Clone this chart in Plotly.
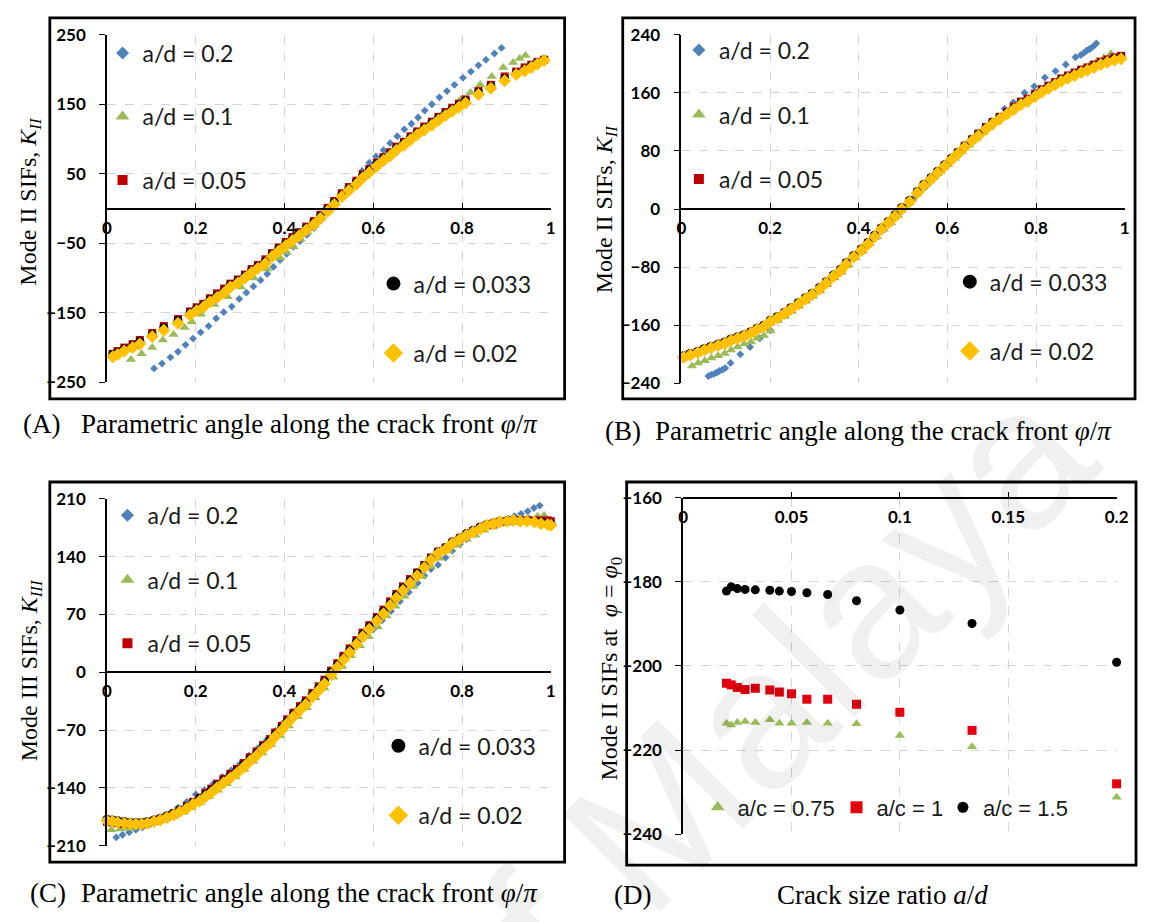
import plotly.graph_objects as go

W, H = 1149, 922


def px(v):
    return v / W


def py(v):
    return 1 - v / H


# ---------------- DATA ----------------
series_labels = ["a/d = 0.2", "a/d = 0.1", "a/d = 0.05", "a/d = 0.033", "a/d = 0.02"]
ratio_labels = ["a/c = 0.75", "a/c = 1", "a/c = 1.5"]

# Panel A : Mode II SIFs
phi_A = [0.013, 0.024, 0.039, 0.058, 0.074, 0.102, 0.128, 0.160, 0.187, 0.202,
         0.217, 0.232, 0.248, 0.264, 0.278, 0.295, 0.311, 0.326, 0.340, 0.357,
         0.372, 0.387, 0.403, 0.418, 0.433, 0.449, 0.466, 0.481, 0.497, 0.512,
         0.529, 0.545, 0.562, 0.576, 0.591, 0.608, 0.623, 0.638, 0.652, 0.669,
         0.684, 0.699, 0.715, 0.732, 0.747, 0.763, 0.778, 0.793, 0.808, 0.837,
         0.865, 0.896, 0.922, 0.941, 0.956, 0.970, 0.985]
kA_002 = [-213, -210, -205, -200, -195, -184, -175, -165, -153, -147,
          -142, -134, -128, -121, -113, -107, -100, -92, -86, -79,
          -69, -61, -53, -46, -39, -31, -23, -14, -4, 6,
          17, 26, 35, 44, 52, 61, 69, 76, 84, 91,
          99, 106, 113, 120, 127, 134, 140, 146, 152, 164,
          173, 184, 193, 198, 203, 208, 213]
kA_0033 = [-210, -207, -202, -197, -191, -181, -171, -161, -150, -144,
           -139, -131, -125, -118, -110, -104, -97, -89, -83, -76,
           -66, -58, -50, -43, -36, -28, -20, -11, -1, 9,
           20, 29, 38, 47, 55, 64, 72, 79, 87, 94,
           102, 109, 116, 123, 130, 137, 143, 149, 155, 167,
           176, 187, 195, 200, 205, 210, 214]
kA_005 = [-209, -205, -200, -195, -189, -179, -169, -159, -148, -142,
          -137, -129, -122, -115, -108, -102, -95, -87, -81, -73,
          -64, -56, -48, -41, -34, -26, -18, -9, 1, 11,
          22, 31, 40, 49, 57, 66, 74, 81, 89, 96,
          104, 111, 118, 125, 132, 139, 145, 151, 157, 169,
          178, 190, 197, 203, 207, 211, 214]
phiA_01 = [0.054, 0.078, 0.102, 0.126, 0.150, 0.175, 0.191, 0.212, 0.242, 0.272,
           0.302, 0.331, 0.361, 0.390, 0.405, 0.420, 0.436, 0.452, 0.468, 0.484,
           0.500, 0.516, 0.532, 0.548, 0.564, 0.580, 0.596, 0.612, 0.628, 0.644,
           0.660, 0.676, 0.692, 0.708, 0.724, 0.740, 0.756, 0.772, 0.797, 0.819,
           0.841, 0.867, 0.893, 0.915, 0.930, 0.943]
kA_01 = [-217, -209, -200, -189, -181, -171, -163, -152, -138, -127,
         -113, -100, -87, -71, -63, -55, -44, -34, -24, -13,
         -3, 8, 18, 28, 37, 46, 55, 63, 71, 79,
         87, 95, 103, 111, 119, 127, 135, 143, 157, 167,
         178, 190, 203, 210, 216, 220]
phiA_02 = [0.106, 0.124, 0.143, 0.160, 0.177, 0.194, 0.211, 0.229, 0.246, 0.263,
           0.281, 0.298, 0.314, 0.330, 0.346, 0.361, 0.375, 0.390, 0.405, 0.420,
           0.435, 0.450, 0.466, 0.482, 0.498, 0.513, 0.529, 0.545, 0.560, 0.575,
           0.591, 0.606, 0.623, 0.638, 0.654, 0.670, 0.686, 0.701, 0.716, 0.732,
           0.749, 0.766, 0.783, 0.802, 0.820, 0.837, 0.854, 0.873, 0.889]
kA_02 = [-230, -223, -214, -206, -196, -187, -178, -169, -158, -149,
         -141, -130, -121, -112, -103, -94, -84, -74, -65, -55,
         -47, -38, -28, -17, -6, 6, 17, 29, 41, 54,
         66, 75, 84, 94, 104, 114, 122, 131, 141, 150,
         160, 169, 178, 188, 197, 206, 214, 223, 231]

# Panel B : Mode II SIFs
phi_B = [0.005, 0.020, 0.037, 0.052, 0.067, 0.083, 0.098, 0.112, 0.127, 0.142,
         0.157, 0.171, 0.186, 0.201, 0.217, 0.233, 0.247, 0.264, 0.280, 0.295,
         0.312, 0.327, 0.343, 0.359, 0.372, 0.389, 0.406, 0.421, 0.436, 0.451,
         0.467, 0.482, 0.497,
         0.515, 0.532, 0.547, 0.563, 0.578, 0.594, 0.609, 0.624, 0.639, 0.656,
         0.670, 0.687, 0.702, 0.718, 0.735, 0.750, 0.766, 0.781, 0.798, 0.813,
         0.828, 0.843, 0.857, 0.872, 0.887, 0.902, 0.916, 0.931, 0.946, 0.961,
         0.977, 0.992]
kB_002 = [-204, -201, -198, -194, -191, -188, -185, -181, -178, -175,
          -171, -166, -162, -155, -150, -144, -138, -131, -124, -118,
          -110, -102, -93, -85, -76, -66, -57, -48, -38, -28,
          -19, -10, 0,
          10, 22, 32, 41, 50, 59, 68, 76, 85, 94,
          101, 110, 117, 124, 131, 137, 144, 148, 155, 161,
          166, 171, 176, 180, 184, 188, 191, 195, 199, 202,
          205, 207]
kB_0033 = [-202, -199, -196, -192, -189, -186, -183, -179, -176, -173,
           -169, -164, -160, -153, -148, -142, -136, -129, -122, -116,
           -108, -100, -91, -83, -74, -64, -55, -46, -36, -26,
           -17, -8, 2,
           12, 24, 34, 43, 52, 61, 70, 78, 87, 96,
           103, 112, 119, 126, 133, 139, 146, 150, 157, 163,
           168, 173, 178, 182, 186, 190, 193, 197, 201, 204,
           207, 209]
kB_005 = [-203, -200, -197, -193, -190, -187, -184, -180, -177, -174,
          -170, -165, -161, -154, -149, -143, -137, -130, -123, -117,
          -109, -101, -92, -84, -75, -65, -56, -47, -37, -27,
          -18, -9, 1,
          11, 23, 33, 42, 51, 60, 69, 78, 87, 96,
          104, 113, 120, 127, 134, 141, 148, 152, 159, 165,
          170, 175, 180, 184, 188, 192, 195, 199, 203, 206,
          209, 211]
phiB_01 = [0.024, 0.038, 0.053, 0.068, 0.083, 0.098, 0.112, 0.127, 0.142, 0.157,
           0.171, 0.186, 0.201,
           0.217, 0.233, 0.249, 0.265, 0.281, 0.297, 0.313, 0.329, 0.345, 0.361,
           0.377, 0.393, 0.409, 0.425, 0.441, 0.457, 0.473, 0.489, 0.505, 0.521,
           0.537, 0.553, 0.569, 0.585, 0.601, 0.617, 0.633, 0.649, 0.665, 0.681,
           0.697, 0.713, 0.729, 0.745, 0.761, 0.777, 0.793, 0.809, 0.825, 0.841,
           0.857, 0.873, 0.889, 0.905, 0.921, 0.937, 0.953, 0.969]
kB_01 = [-216, -212, -209, -205, -202, -199, -194, -190, -186, -183,
         -178, -174, -168,
         -154, -148, -141, -134, -127, -120, -113, -104, -95, -87,
         -77, -67, -58, -48, -38, -28, -19, -9, 2, 13,
         24, 34, 43, 52, 61, 70, 79, 88, 97, 105,
         113, 120, 128, 135, 142, 148, 154, 161, 167, 173,
         178, 183, 188, 193, 198, 203, 208, 214]
phiB_02 = [0.061, 0.068, 0.074, 0.080, 0.086, 0.093, 0.099, 0.111, 0.133, 0.155,
           0.177, 0.201,
           0.225, 0.250, 0.275, 0.300, 0.325, 0.350, 0.375, 0.400, 0.425, 0.450,
           0.475, 0.500, 0.525, 0.550, 0.575, 0.600, 0.625, 0.650, 0.675, 0.700,
           0.729, 0.749, 0.774, 0.796, 0.820, 0.844, 0.867, 0.889, 0.901, 0.908,
           0.914, 0.920, 0.925, 0.931, 0.936]
kB_02 = [-230, -228, -227, -225, -223, -221, -219, -212, -200, -190,
         -178, -167,
         -147, -137, -127, -117, -103, -90, -75, -59, -45, -30,
         -15, 0, 15, 30, 45, 60, 76, 92, 106, 121,
         138, 147, 160, 169, 181, 190, 199, 209, 212, 215,
         218, 220, 222, 225, 228]

# Panel C : Mode III SIFs
phi_C = [0.000, 0.012, 0.024, 0.039, 0.052, 0.065, 0.078, 0.091, 0.106, 0.120,
         0.135, 0.150, 0.164, 0.180, 0.194, 0.209, 0.222, 0.235, 0.248, 0.263,
         0.278, 0.293, 0.308, 0.322, 0.337, 0.352, 0.367, 0.379, 0.394, 0.406,
         0.420, 0.435, 0.448, 0.463, 0.477, 0.490,
         0.505, 0.519, 0.533, 0.547, 0.562, 0.576, 0.591, 0.608, 0.623, 0.638,
         0.652, 0.667, 0.683, 0.699, 0.715, 0.730, 0.746, 0.763, 0.778, 0.795,
         0.810, 0.825, 0.841, 0.856, 0.871, 0.885, 0.902, 0.916, 0.931, 0.946,
         0.963, 0.978, 0.993, 1.000]
kC_002 = [-180, -181, -182, -183, -184, -184, -184, -183, -181, -179,
          -176, -173, -169, -165, -160, -156, -151, -146, -140, -134,
          -128, -122, -115, -108, -101, -93, -86, -78, -70, -62,
          -54, -46, -39, -30, -22, -14,
          -3, 6, 15, 24, 34, 43, 52, 62, 71, 81,
          90, 99, 108, 117, 127, 136, 144, 149, 156, 161,
          166, 170, 174, 178, 180, 182, 183, 184, 183, 183,
          182, 180, 179, 178]
kC_0033 = [-178, -179, -180, -181, -182, -182, -182, -181, -179, -177,
           -174, -171, -167, -163, -158, -153, -148, -143, -137, -131,
           -125, -119, -112, -105, -98, -90, -83, -75, -67, -59,
           -51, -43, -36, -27, -19, -11,
           0, 9, 18, 27, 37, 46, 55, 65, 74, 84,
           93, 102, 111, 120, 129, 138, 146, 151, 158, 163,
           168, 172, 176, 179, 181, 183, 184, 184, 184, 184,
           183, 182, 181, 180]
kC_005 = [-181, -182, -183, -184, -184, -184, -183, -182, -180, -178,
          -175, -171, -167, -162, -157, -152, -146, -141, -135, -129,
          -123, -117, -110, -103, -96, -88, -81, -73, -65, -57,
          -49, -41, -34, -25, -17, -9,
          2, 11, 20, 29, 39, 48, 57, 67, 76, 86,
          95, 104, 113, 121, 130, 139, 146, 151, 157, 162,
          167, 171, 175, 178, 180, 182, 183, 184, 184, 184,
          184, 184, 184, 183]
phiC_01 = [0.01, 0.03, 0.05, 0.07, 0.09, 0.11, 0.13, 0.15, 0.17, 0.19,
           0.21, 0.23, 0.25, 0.27, 0.29, 0.31, 0.33, 0.35, 0.37, 0.39,
           0.41, 0.43, 0.45, 0.47, 0.49, 0.51, 0.53, 0.55, 0.57, 0.59,
           0.61, 0.63, 0.65, 0.67, 0.69, 0.71, 0.73, 0.75, 0.77, 0.79,
           0.81, 0.83, 0.85, 0.87, 0.89, 0.91, 0.93, 0.95, 0.97, 0.985]
kC_01 = [-191, -190, -189, -187, -185, -182, -179, -175, -170, -164,
         -158, -151, -143, -135, -127, -118, -108, -98, -88, -77,
         -65, -54, -43, -31, -19, -6, 7, 20, 32, 43,
         55, 68, 80, 92, 104, 116, 128, 138, 147, 154,
         161, 166, 172, 176, 180, 183, 185, 187, 189, 190]
phiC_02 = [0.021, 0.035, 0.050, 0.065, 0.080, 0.095, 0.110, 0.125, 0.140, 0.160,
           0.180, 0.200, 0.220, 0.240, 0.260, 0.280, 0.300, 0.320, 0.340, 0.360,
           0.380, 0.400, 0.420, 0.440, 0.460, 0.480, 0.500, 0.520, 0.540, 0.560,
           0.580, 0.600, 0.620, 0.640, 0.660, 0.680, 0.700, 0.715, 0.730, 0.746,
           0.763, 0.778, 0.795, 0.810, 0.826, 0.841, 0.856, 0.871, 0.889, 0.904,
           0.918, 0.933, 0.948, 0.962, 0.975]
kC_02 = [-200, -197, -194, -191, -188, -185, -181, -177, -172, -164,
         -157, -148, -143, -135, -127, -119, -111, -101, -92, -82,
         -71, -60, -49, -38, -27, -16, -5, 9, 20, 31,
         42, 52, 63, 74, 86, 97, 108, 117, 125, 130,
         139, 147, 155, 161, 167, 172, 176, 180, 183, 186,
         189, 192, 195, 199, 202]

# Panel D : Mode II SIFs at phi = phi0 vs crack size ratio
ad_ratio = [0.02, 0.0222, 0.025, 0.0286, 0.0333, 0.04, 0.0444, 0.05, 0.0571,
            0.0667, 0.08, 0.1, 0.1333, 0.2]
kD_075 = [-213.6, -214.0, -213.4, -213.2, -213.4, -212.8, -213.6, -213.6, -213.4,
          -213.6, -213.7, -216.5, -219.2, -231.2]
kD_1 = [-204.1, -204.5, -205.1, -205.6, -205.3, -205.7, -206.2, -206.6, -207.9,
        -207.9, -209.1, -211.0, -215.3, -228.0]
kD_15 = [-182.2, -181.2, -181.6, -181.8, -181.9, -182.0, -182.2, -182.3, -182.6,
         -183.0, -184.5, -186.7, -189.9, -199.1]

# tick values / labels
phi_ticks = [0, 0.2, 0.4, 0.6, 0.8, 1]
phi_ticktext = ["0", "0.2", "0.4", "0.6", "0.8", "1"]
yA_ticks = [-250, -150, -50, 50, 150, 250]
yB_ticks = [-240, -160, -80, 0, 80, 160, 240]
yC_ticks = [-210, -140, -70, 0, 70, 140, 210]
xD_ticks = [0, 0.05, 0.1, 0.15, 0.2]
xD_ticktext = ["0", "0.05", "0.1", "0.15", "0.2"]
yD_ticks = [-240, -220, -200, -180, -160]

# ---------------- STYLE ----------------
STY = [
    dict(symbol="diamond", size=6, lsize=10, color="#4F81BD"),
    dict(symbol="triangle-up", size=9, lsize=12, color="#9BBB59"),
    dict(symbol="square", size=8, lsize=10, color="#C00000"),
    dict(symbol="circle", size=9, lsize=14, color="#000000"),
    dict(symbol="diamond", size=10, lsize=15, color="#FFC000"),
]
STY_D = [
    dict(symbol="triangle-up", size=9, lsize=12, color="#9BBB59"),
    dict(symbol="square", size=9, lsize=12, color="#E3000F"),
    dict(symbol="circle", size=9, lsize=11, color="#000000"),
]

LEGFONT = dict(family="Lato, Open Sans, sans-serif", size=23, color="#1a1a1a")
LEGFONT_D = dict(family="Liberation Sans, Arial, sans-serif",
                 size=22, color="#1a1a1a")

fig = go.Figure()
legends = {}
leg_counter = [0]


def new_legend(text_x, center_y, font):
    leg_counter[0] += 1
    key = "legend" if leg_counter[0] == 1 else "legend%d" % leg_counter[0]
    legends[key] = dict(x=px(text_x - 42), y=py(center_y), xanchor="left",
                        yanchor="middle", bgcolor="rgba(0,0,0,0)", font=font,
                        itemclick=False, itemdoubleclick=False)
    return key


panels = [
    dict(xa="x", ya="y",
         series=[(phiA_02, kA_02), (phiA_01, kA_01), (phi_A, kA_005),
                 (phi_A, kA_0033), (phi_A, kA_002)],
         legpos=[(141, 43), (141, 108), (141, 173), (416, 279), (416, 350)]),
    dict(xa="x2", ya="y2",
         series=[(phiB_02, kB_02), (phiB_01, kB_01), (phi_B, kB_005),
                 (phi_B, kB_0033), (phi_B, kB_002)],
         legpos=[(726, 40), (726, 106), (726, 172), (1001, 277), (1001, 348)]),
    dict(xa="x3", ya="y3",
         series=[(phiC_02, kC_02), (phiC_01, kC_01), (phi_C, kC_005),
                 (phi_C, kC_0033), (phi_C, kC_002)],
         legpos=[(146, 516), (146, 582), (146, 647), (421, 752), (421, 823)]),
]
for p in panels:
    for i, (xs, ys) in enumerate(p["series"]):
        s = STY[i]
        fig.add_trace(go.Scatter(
            x=xs, y=ys, mode="markers", name=series_labels[i], showlegend=False,
            marker=dict(symbol=s["symbol"], size=s["size"], color=s["color"],
                        line=dict(width=0)),
            xaxis=p["xa"], yaxis=p["ya"], cliponaxis=False, hoverinfo="skip"))
    for i in range(5):
        s = STY[i]
        key = new_legend(p["legpos"][i][0], p["legpos"][i][1], LEGFONT)
        fig.add_trace(go.Scatter(
            x=[None], y=[None], mode="markers", name=series_labels[i],
            marker=dict(symbol=s["symbol"], size=s["lsize"], color=s["color"],
                        line=dict(width=0)),
            xaxis=p["xa"], yaxis=p["ya"], legend=key, hoverinfo="skip"))

legpos_D = [(745, 815), (886, 815), (994, 815)]
for i, ys in enumerate([kD_075, kD_1, kD_15]):
    s = STY_D[i]
    fig.add_trace(go.Scatter(
        x=ad_ratio, y=ys, mode="markers", name=ratio_labels[i], showlegend=False,
        marker=dict(symbol=s["symbol"], size=s["size"], color=s["color"],
                    line=dict(width=0)),
        xaxis="x4", yaxis="y4", cliponaxis=False, hoverinfo="skip"))
    key = new_legend(legpos_D[i][0], legpos_D[i][1], LEGFONT_D)
    fig.add_trace(go.Scatter(
        x=[None], y=[None], mode="markers", name=ratio_labels[i],
        marker=dict(symbol=s["symbol"], size=s["lsize"], color=s["color"],
                    line=dict(width=0)),
        xaxis="x4", yaxis="y4", legend=key, hoverinfo="skip"))

TICKFONT = dict(family="Lato, Open Sans, sans-serif", size=17, color="black",
                weight="bold")
GRID = dict(showgrid=True, gridcolor="#d4d4d4", griddash="dash", gridwidth=1)


def xaxis_cfg(dom, pos, rng, vals, text):
    return dict(domain=dom, anchor="free", position=pos, range=rng,
                tickmode="array", tickvals=vals, ticktext=text,
                showline=True, linecolor="black", linewidth=1.6,
                ticks="inside", ticklen=5, tickcolor="black", tickwidth=1.3,
                zeroline=False, tickfont=TICKFONT, ticklabelstandoff=4,
                fixedrange=True, **GRID)


def yaxis_cfg(dom, anchor, rng, vals):
    return dict(domain=dom, anchor=anchor, range=rng,
                tickmode="array", tickvals=vals,
                showline=True, linecolor="black", linewidth=1.6,
                ticks="outside", ticklen=6, tickcolor="black", tickwidth=1.3,
                zeroline=False, tickfont=TICKFONT, ticklabelstandoff=10,
                fixedrange=True, **GRID)


domA_x = [px(103.5), px(554)]
domA_y = [py(380), py(24.3)]
domB_x = [px(686.5), px(1136.5)]
domB_y = [py(381), py(24.3)]
domC_x = [px(103.5), px(554)]
domC_y = [py(854), py(499.3)]
domD_x = [px(688.3), px(1128.3)]
domD_y = [py(842.5), py(498)]


def mid(d):
    return (d[0] + d[1]) / 2


fig.update_layout(
    width=W, height=H, margin=dict(l=0, r=0, t=0, b=0),
    paper_bgcolor="white", plot_bgcolor="white",
    xaxis=xaxis_cfg(domA_x, mid(domA_y), [0, 1], phi_ticks, phi_ticktext),
    yaxis=yaxis_cfg(domA_y, "x", [-250, 250], yA_ticks),
    xaxis2=xaxis_cfg(domB_x, mid(domB_y), [0, 1], phi_ticks, phi_ticktext),
    yaxis2=yaxis_cfg(domB_y, "x2", [-240, 240], yB_ticks),
    xaxis3=xaxis_cfg(domC_x, mid(domC_y), [0, 1], phi_ticks, phi_ticktext),
    yaxis3=yaxis_cfg(domC_y, "x3", [-210, 210], yC_ticks),
    xaxis4=xaxis_cfg(domD_x, domD_y[1], [0, 0.2], xD_ticks, xD_ticktext),
    yaxis4=yaxis_cfg(domD_y, "x4", [-240, -160], yD_ticks),
    **legends,
)

# panel frames
frames = [(45.5, 7, 568, 397), (627, 7, 1147, 397), (45.5, 482, 568, 871),
          (631, 482, 1148, 874)]
for (x0, y0, x1, y1) in frames:
    fig.add_shape(type="rect", xref="paper", yref="paper",
                  x0=px(x0), x1=px(x1), y0=py(y1), y1=py(y0),
                  line=dict(color="black", width=2.8), layer="above")

SERIF = "Liberation Serif, Times New Roman, serif"
ann = []


def add_text(text, x, y, size=27, angle=0):
    ann.append(dict(text=text, x=px(x), y=py(y), xref="paper", yref="paper",
                    showarrow=False, textangle=angle, xanchor="center",
                    yanchor="middle", font=dict(family=SERIF, size=size,
                                                color="black")))


caption = "Parametric angle along the crack front <i>φ</i>/<i>π</i>"
add_text("(A)", 37.5, 423)
add_text(caption, 309, 423)
add_text("(B)", 627, 430)
add_text(caption, 892, 430)
add_text("(C)", 44, 903)
add_text(caption, 309, 903)
add_text("(D)", 637, 905)
add_text("Crack size ratio <i>a</i>/<i>d</i>", 891, 905)
add_text("Mode II SIFs, <i>K</i><sub><i>II</i></sub>", 24.5, 195, size=24, angle=-90)
add_text("Mode II SIFs, <i>K</i><sub><i>II</i></sub>", 610, 202, size=24, angle=-90)
add_text("Mode III SIFs, <i>K</i><sub><i>III</i></sub>", 26, 675, size=24, angle=-90)
add_text("Mode II SIFs at  <i>φ</i> = <i>φ</i><sub>0</sub>", 615, 673, size=24,
         angle=-90)

# faint watermark
ann.append(dict(text="of Malaya", x=px(755), y=py(730), xref="paper",
                yref="paper", showarrow=False, textangle=-45,
                xanchor="center", yanchor="middle",
                font=dict(family="Liberation Sans, sans-serif", size=200,
                          color="rgba(0,0,0,0.06)")))

fig.update_layout(annotations=ann)

fig.write_html("out.html")
